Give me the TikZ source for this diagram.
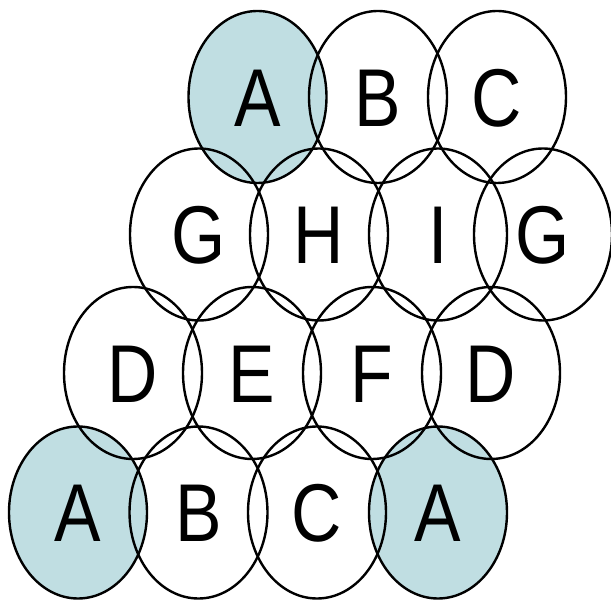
\documentclass[tikz,border=0pt]{standalone}
\usepackage{fontspec}
\usetikzlibrary{shapes.geometric}
\newfontfamily\cellfont[FakeStretch=0.85]{Liberation Sans}
\definecolor{cellblue}{RGB}{192,222,226}
\tikzset{
  cell/.style={ellipse, draw=black, line width=2.4pt, minimum width=138pt, minimum height=172pt,
    inner sep=0pt, text height=59pt, text depth=0pt, font=\cellfont\fontsize{82}{82}\selectfont},
  cellfill/.style={fill=cellblue}
}
\begin{document}
\begin{tikzpicture}[x=1pt,y=1pt]
\useasboundingbox (0,0) rectangle (611,600);
% fills (image y -> 600 - y)
\fill[cellfill] (257.5,503) ellipse [x radius=69, y radius=86];
\fill[cellfill] (78,87.5) ellipse [x radius=69, y radius=86];
\fill[cellfill] (438,87.5) ellipse [x radius=69, y radius=86];
% row 1
\node[cell] (a1) at (257.5,503) {A};
\node[cell] (b1) at (378,503) {B};
\node[cell] (c1) at (497,503) {C};
% row 2
\node[cell] (g1) at (199,365.5) {G};
\node[cell] (h1) at (319,365.5) {H};
\node[cell] (i1) at (438,365.5) {I};
\node[cell] (g2) at (543,365.5) {G};
% row 3
\node[cell] (d1) at (133,227) {D};
\node[cell] (e1) at (252,227) {E};
\node[cell] (f1) at (372,227) {F};
\node[cell] (d2) at (491,227) {D};
% row 4
\node[cell] (a2) at (78,87.5) {A};
\node[cell] (b2) at (198.5,87.5) {B};
\node[cell] (c2) at (317,87.5) {C};
\node[cell] (a3) at (438,87.5) {A};
\end{tikzpicture}
\end{document}
